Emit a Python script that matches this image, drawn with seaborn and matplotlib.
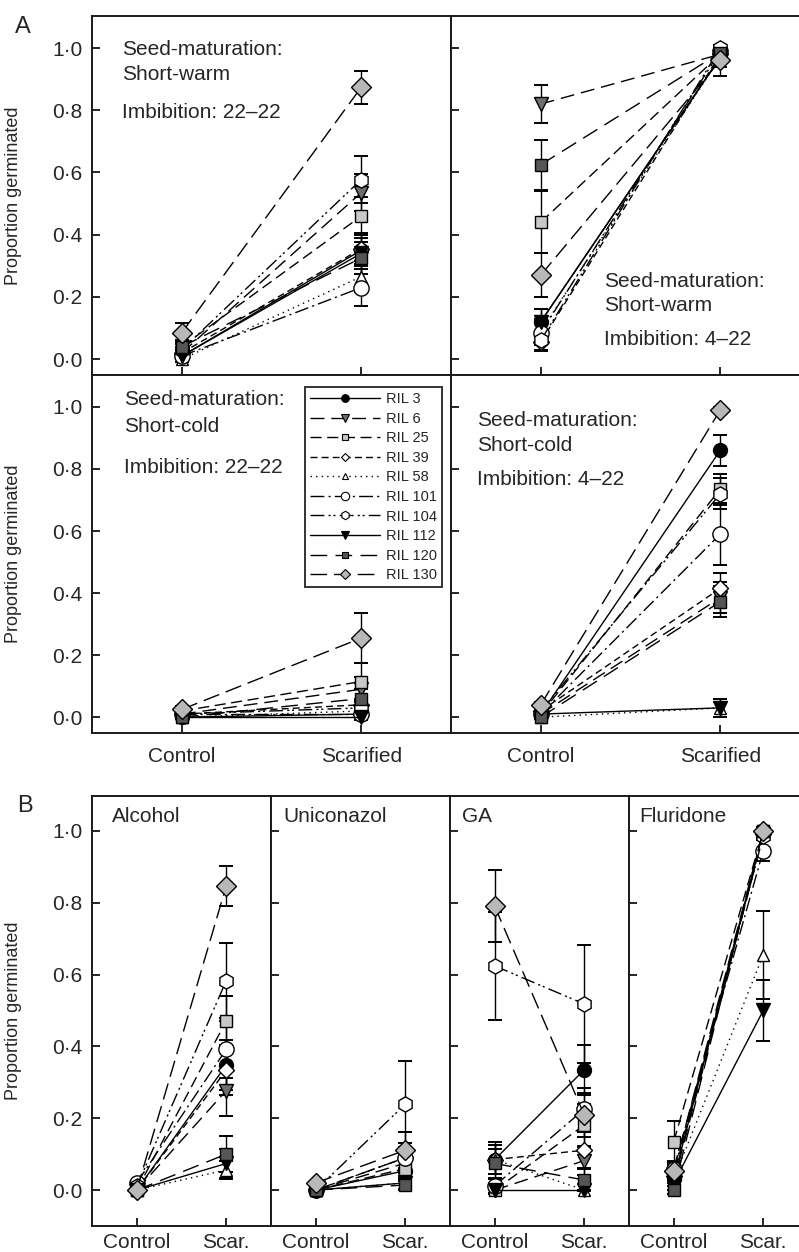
import numpy as np
import pandas as pd
import matplotlib
matplotlib.use("Agg")
import matplotlib.pyplot as plt
from matplotlib.lines import Line2D
import seaborn as sns

sns.set_theme(style="white")
plt.rcParams['font.family'] = ['Liberation Sans', 'DejaVu Sans']

# ---------------- data ----------------
rils = ["RIL 3", "RIL 6", "RIL 25", "RIL 39", "RIL 58",
        "RIL 101", "RIL 104", "RIL 112", "RIL 120", "RIL 130"]
labels_A = ["Control", "Scarified"]
labels_B = ["Control", "Scar."]
ytick_vals = [0.0, 0.2, 0.4, 0.6, 0.8, 1.0]
ytick_labels = ["0·0", "0·2", "0·4", "0·6", "0·8", "1·0"]

# Panel A, short-warm, imbibition 22-22
warm22_ctrl = [0.01, 0.02, 0.04, 0.02, 0.00, 0.01, 0.03, 0.01, 0.04, 0.085]
warm22_ctrl_err = [0.01, 0.015, 0.02, 0.01, 0.01, 0.01, 0.02, 0.01, 0.02, 0.03]
warm22_scar = [0.35, 0.535, 0.46, 0.355, 0.265, 0.23, 0.577, 0.34, 0.325, 0.874]
warm22_scar_err = [0.05, 0.06, 0.06, 0.05, 0.05, 0.06, 0.075, 0.05, 0.05, 0.053]

# Panel A, short-warm, imbibition 4-22
warm4_ctrl = [0.12, 0.82, 0.44, 0.055, 0.09, 0.085, 0.06, 0.12, 0.625, 0.27]
warm4_ctrl_err = [0.04, 0.06, 0.10, 0.03, 0.04, 0.04, 0.03, 0.04, 0.08, 0.07]
warm4_scar = [0.97, 0.98, 0.98, 0.98, 0.97, 0.99, 1.00, 0.97, 0.985, 0.96]
warm4_scar_err = [0.03, 0.02, 0.02, 0.02, 0.03, 0.01, 0.01, 0.03, 0.02, 0.05]

# Panel A, short-cold, imbibition 22-22
cold22_ctrl = [0.00, 0.01, 0.02, 0.01, 0.00, 0.01, 0.01, 0.00, 0.00, 0.025]
cold22_ctrl_err = [0.005, 0.01, 0.01, 0.01, 0.005, 0.01, 0.01, 0.005, 0.005, 0.01]
cold22_scar = [0.01, 0.09, 0.115, 0.04, 0.02, 0.01, 0.03, 0.00, 0.06, 0.255]
cold22_scar_err = [0.01, 0.04, 0.06, 0.02, 0.02, 0.01, 0.02, 0.01, 0.03, 0.08]

# Panel A, short-cold, imbibition 4-22
cold4_ctrl = [0.01, 0.01, 0.01, 0.02, 0.00, 0.01, 0.02, 0.01, 0.00, 0.04]
cold4_ctrl_err = [0.01, 0.01, 0.01, 0.01, 0.005, 0.01, 0.01, 0.01, 0.005, 0.01]
cold4_scar = [0.86, 0.385, 0.735, 0.415, 0.03, 0.59, 0.72, 0.03, 0.372, 0.99]
cold4_scar_err = [0.05, 0.05, 0.05, 0.05, 0.03, 0.10, 0.05, 0.03, 0.05, 0.01]

# Panel B
alcohol_ctrl = [0.00, 0.00, 0.00, 0.00, 0.00, 0.02, 0.01, 0.00, 0.00, 0.00]
alcohol_ctrl_err = [0.005] * 10
alcohol_scar = [0.348, 0.277, 0.471, 0.334, 0.056, 0.392, 0.583, 0.074, 0.10, 0.847]
alcohol_scar_err = [0.07, 0.07, 0.07, 0.07, 0.025, 0.08, 0.105, 0.04, 0.05, 0.055]

unicon_ctrl = [0.00, 0.00, 0.00, 0.00, 0.00, 0.00, 0.00, 0.00, 0.00, 0.02]
unicon_ctrl_err = [0.005] * 10
unicon_scar = [0.054, 0.075, 0.06, 0.09, 0.02, 0.09, 0.239, 0.02, 0.014, 0.111]
unicon_scar_err = [0.03, 0.04, 0.03, 0.04, 0.02, 0.03, 0.12, 0.02, 0.01, 0.05]

ga_ctrl = [0.085, 0.00, 0.00, 0.085, 0.085, 0.012, 0.624, 0.00, 0.074, 0.79]
ga_ctrl_err = [0.04, 0.01, 0.01, 0.04, 0.05, 0.02, 0.15, 0.0, 0.04, 0.10]
ga_scar = [0.335, 0.082, 0.181, 0.111, 0.00, 0.225, 0.518, 0.00, 0.028, 0.209]
ga_scar_err = [0.07, 0.04, 0.06, 0.05, 0.0, 0.06, 0.165, 0.0, 0.03, 0.06]

flur_ctrl = [0.03, 0.02, 0.135, 0.04, 0.03, 0.06, 0.05, 0.02, 0.00, 0.053]
flur_ctrl_err = [0.02, 0.02, 0.058, 0.02, 0.02, 0.02, 0.02, 0.02, 0.01, 0.02]
flur_scar = [1.00, 0.99, 1.00, 0.99, 0.655, 0.945, 0.985, 0.50, 1.00, 1.00]
flur_scar_err = [0.01, 0.01, 0.01, 0.01, 0.123, 0.03, 0.01, 0.085, 0.01, 0.01]

# ---------------- styles ----------------
marker_shapes = ['o', 'v', 's', 'D', '^', 'o', 'h', 'v', 's', 'D']
face_colors = ['black', '#6e6e6e', '#c8c8c8', 'white', 'white',
               'white', 'white', 'black', '#555555', '#b8b8b8']
marker_sizes = [10, 10, 9, 8, 9, 11, 11, 10, 9, 10]
line_styles = ['-', (0, (10, 5)), (0, (8, 4)), (0, (5, 3)), (0, (1, 3)),
               (0, (10, 3, 1.5, 3)), (0, (10, 3, 1.5, 2, 1.5, 3)), '-',
               (0, (12, 6)), (0, (12, 5))]

W, H = 799, 1252
fig = plt.figure(figsize=(W / 100, H / 100), dpi=100)


def add_ax(x0, y0, x1, y1):
    return fig.add_axes([x0 / W, 1 - y1 / H, (x1 - x0) / W, (y1 - y0) / H])


def draw_panel(ax, ctrl, ctrl_err, scar, scar_err, ylim, xlabels,
               show_x, show_y, xpad):
    df = pd.DataFrame({
        "RIL": np.repeat(rils, 2),
        "x": np.tile([0, 1], len(rils)),
        "y": np.ravel(np.column_stack([ctrl, scar])),
        "err": np.ravel(np.column_stack([ctrl_err, scar_err])),
    })
    for i, r in enumerate(rils):
        sub = df[df["RIL"] == r]
        ax.errorbar(sub["x"], sub["y"], yerr=sub["err"], fmt='none',
                    ecolor='black', elinewidth=1.0, capsize=5, capthick=1.4,
                    zorder=2 + i * 0.01)
        sns.lineplot(data=sub, x="x", y="y", ax=ax, color='black',
                     linewidth=1.0, linestyle=line_styles[i],
                     marker=marker_shapes[i], markersize=marker_sizes[i],
                     markerfacecolor=face_colors[i], markeredgecolor='black',
                     markeredgewidth=1.0, estimator=None, errorbar=None,
                     sort=False, legend=False, zorder=3 + i * 0.01)
    ax.set_xlim(-0.5, 1.5)
    ax.set_ylim(*ylim)
    ax.set_xticks([0, 1])
    ax.set_yticks(ytick_vals)
    ax.set_xlabel("")
    ax.set_ylabel("")
    if show_x:
        ax.set_xticklabels(xlabels, fontsize=15)
    else:
        ax.set_xticklabels([])
    if show_y:
        ax.set_yticklabels(ytick_labels, fontsize=15)
    else:
        ax.set_yticklabels([])
    ax.tick_params(axis='both', direction='in', length=6, width=1.2,
                   color='black', left=True, bottom=True)
    ax.tick_params(axis='x', pad=xpad)
    ax.tick_params(axis='y', pad=7)
    for s in ax.spines.values():
        s.set_color('#1a1a1a')
        s.set_linewidth(1.4)
    ax.grid(False)


ylim_A = (-0.051, 1.103)
ylim_B = (-0.1, 1.097)

ax1 = add_ax(92, 16, 451, 375)
ax2 = add_ax(451, 16, 810, 375)
ax3 = add_ax(92, 375, 451, 733)
ax4 = add_ax(451, 375, 810, 733)

draw_panel(ax1, warm22_ctrl, warm22_ctrl_err, warm22_scar, warm22_scar_err,
           ylim_A, labels_A, False, True, 10)
draw_panel(ax2, warm4_ctrl, warm4_ctrl_err, warm4_scar, warm4_scar_err,
           ylim_A, labels_A, False, False, 10)
draw_panel(ax3, cold22_ctrl, cold22_ctrl_err, cold22_scar, cold22_scar_err,
           ylim_A, labels_A, True, True, 10)
draw_panel(ax4, cold4_ctrl, cold4_ctrl_err, cold4_scar, cold4_scar_err,
           ylim_A, labels_A, True, False, 10)

bx = [add_ax(92, 796, 271, 1226), add_ax(271, 796, 450, 1226),
      add_ax(450, 796, 629, 1226), add_ax(629, 796, 808, 1226)]
B_data = [
    (alcohol_ctrl, alcohol_ctrl_err, alcohol_scar, alcohol_scar_err, "Alcohol", 0.11),
    (unicon_ctrl, unicon_ctrl_err, unicon_scar, unicon_scar_err, "Uniconazol", 0.067),
    (ga_ctrl, ga_ctrl_err, ga_scar, ga_scar_err, "GA", 0.067),
    (flur_ctrl, flur_ctrl_err, flur_scar, flur_scar_err, "Fluridone", 0.06),
]
for k, (ax, d) in enumerate(zip(bx, B_data)):
    draw_panel(ax, d[0], d[1], d[2], d[3], ylim_B, labels_B, True, k == 0, 5)
    ax.text(d[5], 0.94, d[4], transform=ax.transAxes, fontsize=15,
            va='baseline', ha='left')

# panel annotations
txt_kw = dict(fontsize=15, va='baseline', ha='left')
ax1.text(0.084, 0.891, "Seed-maturation:", transform=ax1.transAxes, **txt_kw)
ax1.text(0.084, 0.822, "Short-warm", transform=ax1.transAxes, **txt_kw)
ax1.text(0.084, 0.716, "Imbibition: 22–22", transform=ax1.transAxes, **txt_kw)

ax2.text(0.426, 0.245, "Seed-maturation:", transform=ax2.transAxes, **txt_kw)
ax2.text(0.426, 0.178, "Short-warm", transform=ax2.transAxes, **txt_kw)
ax2.text(0.426, 0.084, "Imbibition: 4–22", transform=ax2.transAxes, **txt_kw)

ax3.text(0.089, 0.916, "Seed-maturation:", transform=ax3.transAxes, **txt_kw)
ax3.text(0.089, 0.841, "Short-cold", transform=ax3.transAxes, **txt_kw)
ax3.text(0.089, 0.726, "Imbibition: 22–22", transform=ax3.transAxes, **txt_kw)

ax4.text(0.072, 0.858, "Seed-maturation:", transform=ax4.transAxes, **txt_kw)
ax4.text(0.072, 0.788, "Short-cold", transform=ax4.transAxes, **txt_kw)
ax4.text(0.072, 0.693, "Imbibition: 4–22", transform=ax4.transAxes, **txt_kw)

# y labels
for ax, w in [(ax1, 359), (ax3, 359), (bx[0], 179)]:
    ax.set_ylabel("Proportion germinated", fontsize=13)
    ax.yaxis.set_label_coords((22 - 92) / w, 0.5)

# legend
handles = [Line2D([0], [0], color='black', linewidth=1.0,
                  linestyle=line_styles[i], marker=marker_shapes[i],
                  markersize=marker_sizes[i] * 0.55,
                  markerfacecolor=face_colors[i], markeredgecolor='black',
                  markeredgewidth=0.8)
           for i in range(len(rils))]
leg = ax3.legend(handles, rils, loc='upper right',
                 bbox_to_anchor=(0.975, 0.966), borderaxespad=0,
                 fontsize=10.5, frameon=True, fancybox=False,
                 handlelength=4.8, handletextpad=0.4, labelspacing=0.38,
                 borderpad=0.35)
leg.get_frame().set_edgecolor('black')
leg.get_frame().set_linewidth(1.4)
leg.set_zorder(10)

# panel letters
fig.text(15 / W, 1 - 33 / H, "A", fontsize=17, ha='left', va='baseline')
fig.text(17 / W, 1 - 812 / H, "B", fontsize=17, ha='left', va='baseline')

fig.savefig("out.png", dpi=100)
